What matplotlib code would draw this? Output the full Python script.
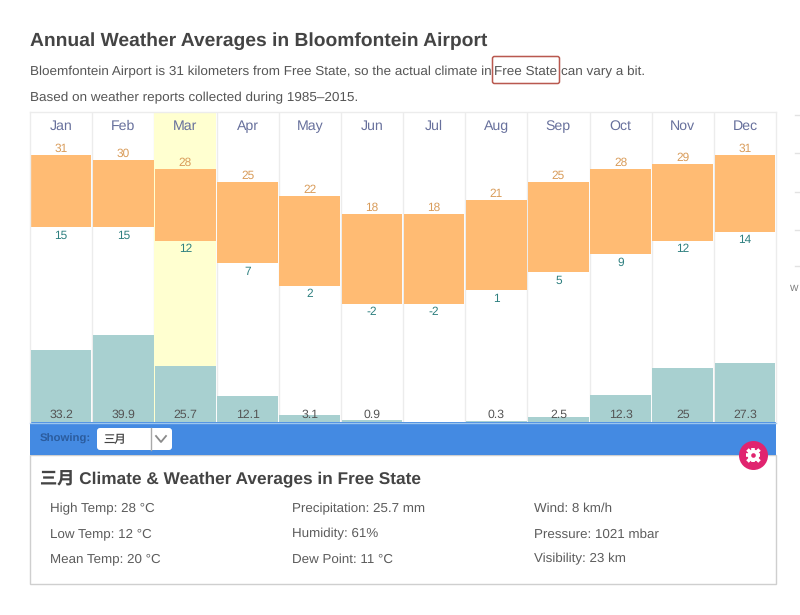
import matplotlib
matplotlib.use('Agg')
import matplotlib.pyplot as plt
from matplotlib.patches import FancyBboxPatch, Rectangle
import numpy as np

plt.rcParams['font.family'] = ['Liberation Sans', 'Noto Sans CJK SC', 'DejaVu Sans']
plt.rcParams['text.hinting'] = 'no_hinting'

months = ['Jan', 'Feb', 'Mar', 'Apr', 'May', 'Jun', 'Jul', 'Aug', 'Sep', 'Oct', 'Nov', 'Dec']
high_temp = [31, 30, 28, 25, 22, 18, 18, 21, 25, 28, 29, 31]
low_temp = [15, 15, 12, 7, 2, -2, -2, 1, 5, 9, 12, 14]
precip = [33.2, 39.9, 25.7, 12.1, 3.1, 0.9, 0, 0.3, 2.5, 12.3, 25, 27.3]
precip_labels = ['33.2', '39.9', '25.7', '12.1', '3.1', '0.9', '', '0.3', '2.5', '12.3', '25', '27.3']
selected = 2

details = [
    ['High Temp: 28 °C', 'Low Temp: 12 °C', 'Mean Temp: 20 °C'],
    ['Precipitation: 25.7 mm', 'Humidity: 61%', 'Dew Point: 11 °C'],
    ['Wind: 8 km/h', 'Pressure: 1021 mbar', 'Visibility: 23 km'],
]

W, H = 800, 615
fig = plt.figure(figsize=(W / 100, H / 100), dpi=100, facecolor='white')

# page layer, in pixels
page = fig.add_axes([0, 0, 1, 1], zorder=0)
page.set_xlim(0, W)
page.set_ylim(H, 0)
page.axis('off')

page.text(29.5, 46, 'Annual Weather Averages in Bloomfontein Airport', fontsize=13.9,
          fontweight='bold', color='#444444', va='baseline')
page.text(30, 75, 'Bloemfontein Airport is 31 kilometers from Free State, so the actual climate in',
          fontsize=9.7, color='#555555', va='baseline')
page.text(494, 75, 'Free State', fontsize=9.7, color='#555555', va='baseline')
page.text(561, 75, 'can vary a bit.', fontsize=9.7, color='#555555', va='baseline')
page.text(30, 101, 'Based on weather reports collected during 1985–2015.', fontsize=9.7,
          color='#555555', va='baseline')
page.add_patch(FancyBboxPatch((492.5, 56.5), 67, 27, boxstyle='round,pad=0,rounding_size=2',
                              fc='none', ec='#b9594f', lw=1.1))

# blue bar and panel
page.add_patch(Rectangle((30, 455), 746, 129, fc='white', ec='#cfcfcf', lw=1))
page.add_patch(Rectangle((30, 422), 746, 33, fc='#448ae2', ec='none'))
page.plot([30, 776], [422.5, 422.5], color='#9cc6ee', lw=1)
page.text(40, 441.5, 'Showing:', fontsize=8.2, fontweight='bold', color='#2b5c9e', va='baseline')
page.add_patch(FancyBboxPatch((97, 428), 75, 22, boxstyle='round,pad=0,rounding_size=3',
                              fc='white', ec='none'))
page.plot([150.5, 150.5], [428, 450], color='#a9a9a9', lw=1)
page.plot([156, 161, 166], [436, 442, 436], color='#8a8a8a', lw=1.3)
page.text(103, 443, '三月', fontsize=8.2, color='#444444', va='baseline')

page.text(40, 484, '三月 Climate & Weather Averages in Free State', fontsize=12.4,
          fontweight='bold', color='#444444', va='baseline')
for col_x, rows in zip([50, 292, 534], details):
    for row_y, label in zip([511.9, 537.75, 562.75], rows):
        page.text(col_x, row_y, label, fontsize=9.6, color='#5c5c5c', va='baseline')

# settings button
page.scatter([753], [454.5], s=436, color='#e0246f', linewidths=0, zorder=5)
page.scatter([753], [454.5], s=72, color='white', linewidths=0, zorder=6)
page.scatter([753], [454.5], s=110, color='white', marker='+', linewidths=2.6, zorder=6)
page.scatter([753], [454.5], s=75, color='white', marker='x', linewidths=2.6, zorder=6)
page.scatter([753], [454.5], s=11, color='#e0246f', linewidths=0, zorder=7)

# clipped bits of the page at the right edge
for tick_y in [115, 153, 192, 230, 266]:
    page.plot([795, 800], [tick_y, tick_y], color='#e2e2e2', lw=1)
page.text(790, 289, 'W', fontsize=6.5, color='#777777', va='center')

# chart, temperature on ax and precipitation on ax2
left, right, top, bottom = 30, 776, 112, 422
ax = fig.add_axes([left / W, 1 - bottom / H, (right - left) / W, (bottom - top) / H], zorder=1)
ax.set_xlim(0, 12)
ax.set_ylim(31 - (bottom - 155) / 4.5, 31 + (155 - top) / 4.5)
ax.set_xticks([])
ax.set_yticks([])
for side in ax.spines:
    ax.spines[side].set_color('#ececec')
    ax.spines[side].set_linewidth(1)
ax.spines['bottom'].set_visible(False)

xs = np.arange(12) + 0.5
for edge in range(1, 12):
    ax.axvline(edge, color='#ececec', lw=1, zorder=1)
ax.axvspan(selected, selected + 1, color='#ffffd0', lw=0, zorder=1.5)

highs = np.array(high_temp)
lows = np.array(low_temp)
ax.bar(xs, highs - lows, bottom=lows, width=0.975, color='#ffbb73', zorder=2)

ax2 = ax.twinx()
ax2.set_zorder(2)
ax2.patch.set_visible(False)
ax2.set_ylim(0, (bottom - top) / 2.17)
ax2.set_yticks([])
for side in ax2.spines:
    ax2.spines[side].set_visible(False)
ax2.bar(xs, precip, width=0.975, color='#a8d0d0', zorder=2)

for i in range(12):
    ax.text(xs[i], 0.943, months[i], transform=ax.get_xaxis_transform(), fontsize=10.2,
            color='#67709c', ha='center', va='baseline')
    ax.annotate(str(high_temp[i]), (xs[i], high_temp[i]), xytext=(0, 2), textcoords='offset points',
                fontsize=8.6, color='#d99c5a', ha='center', va='baseline')
    ax.annotate(str(low_temp[i]), (xs[i], low_temp[i]), xytext=(0, -8.5), textcoords='offset points',
                fontsize=8.6, color='#2f8080', ha='center', va='baseline')
    ax2.annotate(precip_labels[i], (xs[i], 0), xytext=(0, 3), textcoords='offset points',
                 fontsize=8.8, color='#555555', ha='center', va='baseline')

fig.savefig('out.png', dpi=100)
